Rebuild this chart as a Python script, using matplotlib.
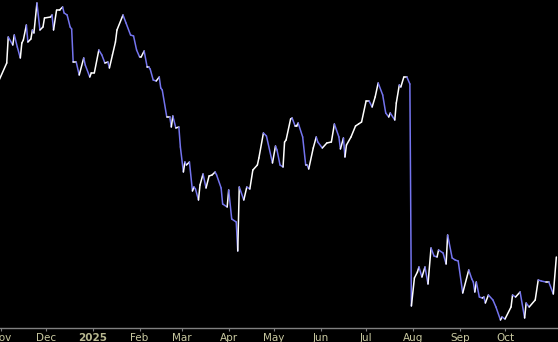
import matplotlib
matplotlib.use("Agg")
import matplotlib.pyplot as plt
import matplotlib.dates as mdates
import numpy as np
import pandas as pd
from matplotlib.collections import LineCollection

# closing prices (no y scale shown, arbitrary units)
dates = [
    "2024-10-31", "2024-11-05", "2024-11-06", "2024-11-09", "2024-11-10", "2024-11-12",
    "2024-11-14", "2024-11-15", "2024-11-16", "2024-11-18", "2024-11-19", "2024-11-21",
    "2024-11-22", "2024-11-23", "2024-11-25", "2024-11-27", "2024-11-29", "2024-11-30",
    "2024-12-04", "2024-12-05", "2024-12-06", "2024-12-08", "2024-12-10", "2024-12-12",
    "2024-12-13", "2024-12-15", "2024-12-17", "2024-12-18", "2024-12-19", "2024-12-21",
    "2024-12-23", "2024-12-26", "2024-12-27", "2024-12-30", "2024-12-31", "2025-01-02",
    "2025-01-05", "2025-01-07", "2025-01-09", "2025-01-11", "2025-01-12", "2025-01-14",
    "2025-01-16", "2025-01-17", "2025-01-21", "2025-01-23", "2025-01-26", "2025-01-28",
    "2025-01-30", "2025-02-01", "2025-02-02", "2025-02-04", "2025-02-06", "2025-02-07",
    "2025-02-08", "2025-02-10", "2025-02-12", "2025-02-14", "2025-02-15", "2025-02-16",
    "2025-02-19", "2025-02-21", "2025-02-22", "2025-02-23", "2025-02-25", "2025-02-27",
    "2025-02-28", "2025-03-02", "2025-03-03", "2025-03-04", "2025-03-06", "2025-03-08",
    "2025-03-09", "2025-03-10", "2025-03-12", "2025-03-13", "2025-03-15", "2025-03-17",
    "2025-03-19", "2025-03-21", "2025-03-23", "2025-03-24", "2025-03-27", "2025-03-28",
    "2025-03-31", "2025-04-01", "2025-04-03", "2025-04-06", "2025-04-07", "2025-04-08",
    "2025-04-11", "2025-04-13", "2025-04-15", "2025-04-17", "2025-04-20", "2025-04-21",
    "2025-04-24", "2025-04-26", "2025-04-30", "2025-05-02", "2025-05-03", "2025-05-05",
    "2025-05-07", "2025-05-08", "2025-05-09", "2025-05-12", "2025-05-13", "2025-05-15",
    "2025-05-16", "2025-05-17", "2025-05-20", "2025-05-22", "2025-05-23", "2025-05-24",
    "2025-05-27", "2025-05-29", "2025-05-30", "2025-06-02", "2025-06-05", "2025-06-08",
    "2025-06-10", "2025-06-13", "2025-06-14", "2025-06-16", "2025-06-17", "2025-06-18",
    "2025-06-21", "2025-06-24", "2025-06-26", "2025-06-28", "2025-07-01", "2025-07-03",
    "2025-07-05", "2025-07-07", "2025-07-09", "2025-07-12", "2025-07-14", "2025-07-16",
    "2025-07-17", "2025-07-20", "2025-07-21", "2025-07-23", "2025-07-24", "2025-07-26",
    "2025-07-28", "2025-07-30", "2025-07-31", "2025-08-02", "2025-08-04", "2025-08-05",
    "2025-08-07", "2025-08-09", "2025-08-11", "2025-08-13", "2025-08-15", "2025-08-17",
    "2025-08-18", "2025-08-21", "2025-08-23", "2025-08-24", "2025-08-27", "2025-08-29",
    "2025-08-31", "2025-09-03", "2025-09-07", "2025-09-09", "2025-09-10", "2025-09-11",
    "2025-09-12", "2025-09-14", "2025-09-16", "2025-09-17", "2025-09-18", "2025-09-20",
    "2025-09-23", "2025-09-25", "2025-09-28", "2025-09-29", "2025-10-01", "2025-10-05",
    "2025-10-06", "2025-10-08", "2025-10-11", "2025-10-14", "2025-10-15", "2025-10-17",
    "2025-10-21", "2025-10-23", "2025-10-25", "2025-10-28", "2025-10-30", "2025-11-02",
    "2025-11-04",
]

prices = [
    126.0, 131.1, 138.9, 136.5, 139.5, 135.9, 132.6, 137.1, 138.0, 142.5, 137.4, 138.3,
    141.0, 140.1, 149.1, 141.0, 141.9, 144.6, 144.9, 145.5, 141.0, 147.0, 147.0, 147.9,
    146.1, 145.5, 141.9, 141.3, 131.4, 131.4, 127.5, 132.6, 130.5, 126.9, 128.1, 128.1,
    135.0, 133.5, 131.1, 131.4, 129.6, 133.5, 137.4, 141.0, 145.5, 143.1, 139.5, 139.2,
    135.0, 132.9, 132.9, 134.7, 129.9, 129.9, 129.3, 126.0, 125.7, 126.9, 123.6, 123.0,
    114.9, 114.9, 111.9, 115.2, 111.6, 111.9, 105.9, 98.4, 101.4, 100.5, 101.4, 92.7,
    93.9, 93.3, 90.0, 94.5, 97.8, 93.6, 97.2, 97.5, 98.4, 97.5, 93.6, 88.8,
    87.9, 93.0, 84.3, 83.4, 74.7, 93.9, 90.0, 93.9, 93.3, 99.0, 100.5, 102.6,
    110.1, 109.2, 101.1, 106.2, 105.0, 100.5, 99.9, 107.4, 108.0, 114.3, 114.6, 112.2,
    112.2, 113.1, 108.9, 100.5, 100.5, 99.3, 105.6, 108.9, 107.4, 105.6, 107.1, 107.4,
    112.8, 108.9, 105.3, 108.6, 102.9, 106.5, 108.9, 112.2, 112.8, 113.4, 119.7, 119.7,
    117.9, 120.9, 125.1, 121.5, 116.1, 114.9, 116.1, 114.0, 119.1, 124.5, 123.9, 126.9,
    126.9, 124.8, 58.2, 66.6, 68.4, 69.9, 66.9, 69.9, 64.8, 75.6, 73.2, 72.9,
    75.0, 74.1, 70.8, 79.5, 72.6, 72.0, 71.7, 62.1, 69.0, 66.3, 65.4, 62.4,
    65.4, 60.9, 60.6, 60.9, 59.1, 61.5, 60.0, 57.9, 54.0, 54.9, 54.3, 57.9,
    61.5, 60.9, 62.4, 54.6, 59.1, 57.9, 60.0, 66.0, 65.7, 65.4, 65.4, 61.8,
    72.9,
]

tick_dates = ["2024-11-01", "2024-12-01", "2025-01-01", "2025-02-01", "2025-03-01",
              "2025-04-01", "2025-05-01", "2025-06-01", "2025-07-01", "2025-08-01",
              "2025-09-01", "2025-10-01"]
tick_labels = ["Nov", "Dec", "2025", "Feb", "Mar", "Apr", "May", "Jun", "Jul",
               "Aug", "Sep", "Oct"]

UP = "#ffffff"
DOWN = "#7474ee"
LABEL = "#c8c8a0"

x = mdates.date2num(pd.to_datetime(dates))
y = np.asarray(prices)

pts = np.column_stack([x, y]).reshape(-1, 1, 2)
segs = np.concatenate([pts[:-1], pts[1:]], axis=1)
colors = [UP if b >= a else DOWN for a, b in zip(y[:-1], y[1:])]

fig = plt.figure(figsize=(5.58, 3.42), dpi=100, facecolor="black")
ax = fig.add_axes([0, 14 / 342, 1, 328 / 342])
ax.set_facecolor("black")

lc = LineCollection(segs, colors=colors, linewidths=1.1, capstyle="round",
                    joinstyle="round")
ax.add_collection(lc)

start = pd.Timestamp("2024-11-01")
ax.set_xlim(mdates.date2num(start - pd.Timedelta(days=0.46)),
            mdates.date2num(start + pd.Timedelta(days=369.1)))
ax.set_ylim(51.6, 150)

for side in ("top", "left", "right"):
    ax.spines[side].set_visible(False)
ax.spines["bottom"].set_color("#808080")
ax.spines["bottom"].set_linewidth(1.0)

ax.set_yticks([])
ax.set_xticks(mdates.date2num(pd.to_datetime(tick_dates)))
ax.set_xticklabels(tick_labels)
ax.tick_params(axis="x", direction="out", length=2, width=0.8, color="#808080",
               labelcolor=LABEL, labelsize=7.5, pad=1.5)
for lab in ax.get_xticklabels():
    if lab.get_text() == "2025":
        lab.set_fontweight("bold")
        lab.set_color("#b8b890")

fig.savefig("out.png", dpi=100, facecolor="black")
